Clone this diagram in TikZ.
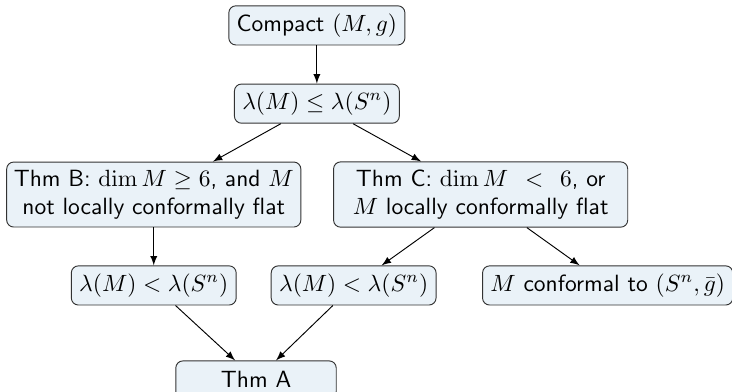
\documentclass[tikz,border=0pt]{standalone}
\usepackage{amsmath}
\definecolor{boxfill}{RGB}{234,242,248}
\begin{document}
\begin{tikzpicture}[>=latex,
  box/.style={draw=black!80, fill=boxfill, rounded corners=3pt, font=\sffamily,
    minimum width=2.4cm, minimum height=16pt, align=center},
  thmbox/.style={box, inner xsep=2pt, text width=4.26cm}]
\useasboundingbox (0,0) rectangle (10.95,5.86);

\node[box] (compact) at (4.74,5.48) {Compact $(M,g)$};
\node[box] (leq) at (4.74,4.31) {$\lambda(M)\leq\lambda(S^n)$};

\node[thmbox] (thmB) at (2.30,2.95) {Thm B: $\dim M\geq 6$, and $M$\\ not locally conformally flat};
\node[thmbox] (thmC) at (7.19,2.95) {Thm C: $\dim M\ <\ 6$, or\\ $M$ locally conformally flat};

\node[box] (lessB) at (2.30,1.59) {$\lambda(M)<\lambda(S^n)$};
\node[box] (lessC) at (5.29,1.59) {$\lambda(M)<\lambda(S^n)$};
\node[box] (conf) at (9.09,1.59) {$M$ conformal to $(S^n,\bar g)$};

\node[box] (thmA) at (3.83,0.18) {Thm A};

\draw[->] (compact) -- (leq);
\draw[->] (leq) -- (thmB);
\draw[->] (leq) -- (thmC);
\draw[->] (thmB) -- (lessB);
\draw[->] (thmC) -- (lessC);
\draw[->] (thmC) -- (conf);
\draw[->] (lessB) -- (thmA);
\draw[->] (lessC) -- (thmA);
\end{tikzpicture}
\end{document}
